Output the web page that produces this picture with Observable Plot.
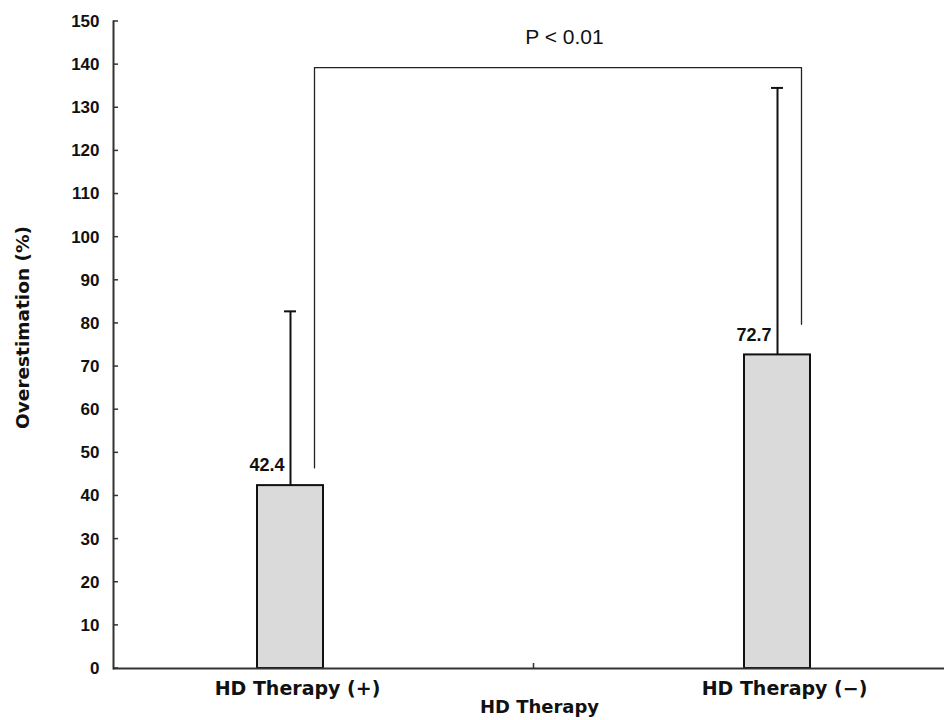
<!DOCTYPE html>
<html><head><meta charset="utf-8">
<script src="https://cdn.jsdelivr.net/npm/d3@7"></script>
<script src="https://cdn.jsdelivr.net/npm/@observablehq/plot@0.6"></script>
<style>body{margin:0;background:#fff} #chart svg{display:block;background:#fff}</style>
</head><body><div id="chart"></div>
<script>
const categories = ["HD Therapy (+)", "HD Therapy (−)"];
const means = [42.4, 72.7];
const upperErrors = [82.8, 134.6];
const yTicks = d3.range(0, 151, 10);
const bracketCats = [categories[0], categories[0], categories[1], categories[1]];
const bracketY = [46.5, 139.3, 139.3, 79.8];
const pLabel = "P < 0.01";
const pLabelY = 146;
const xTitle = "HD Therapy";
const yTitle = "Overestimation (%)";

const data = categories.map((c, i) => ({cat: c, value: means[i], upper: upperErrors[i]}));
const bracket = bracketY.map((v, i) => ({cat: bracketCats[i], y: v}));

const numFont = "'Liberation Sans', Arial, sans-serif";
const txtFont = "'DejaVu Sans', sans-serif";

function extras(index, scales, values, dims) {
  const x = scales.x, y = scales.y;
  const bw = typeof x.bandwidth === "function" ? x.bandwidth() : (x.bandwidth || 0);
  const c0 = x(categories[0]) + bw / 2, c1 = x(categories[1]) + bw / 2;
  const mid = (c0 + c1) / 2;
  const g = d3.create("svg:g");
  g.selectAll("line.yt").data(yTicks).join("line")
    .attr("x1", dims.marginLeft).attr("x2", dims.marginLeft + 5)
    .attr("y1", d => y(d)).attr("y2", d => y(d))
    .attr("stroke", "#333").attr("stroke-width", 1.5);
  g.append("line").attr("x1", mid).attr("x2", mid).attr("y1", y(0)).attr("y2", y(0) - 5)
    .attr("stroke", "#333").attr("stroke-width", 1.5);
  g.append("text").attr("x", mid + 31).attr("y", y(pLabelY))
    .attr("text-anchor", "middle").attr("dominant-baseline", "middle")
    .attr("font-family", numFont).attr("font-size", 21).attr("font-weight", 500).attr("fill", "#111")
    .text(pLabel);
  g.append("text").attr("x", mid + 6).attr("y", dims.height - 7)
    .attr("text-anchor", "middle")
    .attr("font-family", txtFont).attr("font-weight", "bold").attr("font-size", 18).attr("fill", "#111")
    .text(xTitle);
  const ty = (y(0) + y(150)) / 2 - 17;
  g.append("text").attr("transform", `translate(${dims.marginLeft - 89},${ty}) rotate(-90)`)
    .attr("text-anchor", "middle").attr("dominant-baseline", "middle")
    .attr("font-family", txtFont).attr("font-weight", "bold").attr("font-size", 18.5).attr("fill", "#111")
    .text(yTitle);
  return g.node();
}

const chart = Plot.plot({
  width: 944,
  height: 720,
  marginLeft: 113,
  marginRight: 0,
  marginTop: 21,
  marginBottom: 52,
  x: {type: "band", domain: categories, range: [257, 810], paddingInner: 0.8645, paddingOuter: 0},
  y: {domain: [0, 150]},
  marks: [
    Plot.axisY({ticks: yTicks, tickSize: 0, tickPadding: 14, fontSize: 17, fontWeight: "bold", fontFamily: numFont, fill: "#111", label: null}),
    Plot.axisX({tickSize: 0, tickPadding: 13, dx: 7, fontSize: 19, fontWeight: "bold", fontFamily: txtFont, fill: "#111", label: null}),
    Plot.barY(data, {x: "cat", y: "value", fill: "#dadada", stroke: "#111", strokeWidth: 2}),
    Plot.ruleX(data, {x: "cat", y1: "value", y2: "upper", stroke: "#111", strokeWidth: 2}),
    Plot.tickY(data, {x: "cat", y: "upper", insetLeft: 27, insetRight: 27, stroke: "#111", strokeWidth: 2}),
    Plot.line(bracket, {x: "cat", y: "y", dx: 24, stroke: "#222", strokeWidth: 1.3}),
    Plot.text(data, {x: "cat", y: "value", text: d => d.value.toFixed(1), textAnchor: "end", dx: -6, dy: -20, fontSize: 18, fontWeight: "bold", fontFamily: numFont, fill: "#111"}),
    Plot.frame({anchor: "left", stroke: "#333", strokeWidth: 2}),
    Plot.ruleY([0], {stroke: "#333", strokeWidth: 2}),
    extras
  ]
});
document.getElementById("chart").append(chart);
</script>
</body></html>
